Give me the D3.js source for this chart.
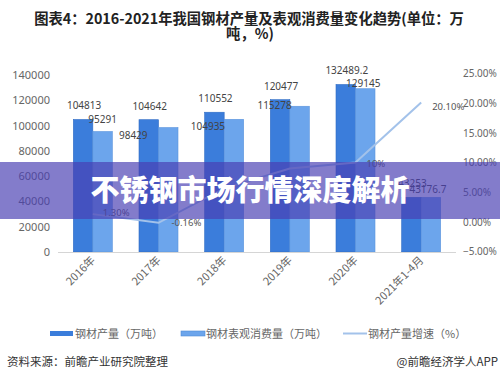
<!DOCTYPE html>
<html><head><meta charset="utf-8">
<script src="https://cdn.jsdelivr.net/npm/d3@7"></script>
<style>
html,body{margin:0;padding:0;background:#fff;}
svg{display:block;}
text{font-family:"Noto Sans","Noto Sans CJK SC",sans-serif;}
</style></head>
<body>
<svg id="c" width="500" height="381"></svg>
<script>
const categories = ["2016年","2017年","2018年","2019年","2020年","2021年1-4月"];
const production = [104813,104642,110552,120477,132489.2,43253];
const consumption = [95291,98429,104935,115278,129145,43176.7];
const growth = [1.30,-0.16,5.65,8.98,10.0,20.10];
const productionLabels = ["104813","104642","110552","120477","132489.2","43253"];
const consumptionLabels = ["95291","98429","104935","115278","129145","43176.7"];
const growthLabels = ["1.30%","-0.16%","","","10%","20.10%"];
const leftTicks = [0,20000,40000,60000,80000,100000,120000,140000];
const rightTicks = [-5,0,5,10,15,20,25];
const seriesNames = ["钢材产量（万吨）","钢材表观消费量（万吨）","钢材产量增速（%）"];

// layout offsets for labels (styling, not data)
const consLabelOffset = [[0,-9],[-35,11],[-26,11],[-25,3],[-2,-2],[-3,-4]];
const growthLabelOffset = [[10,2],[13,3],[0,0],[0,0],[11,4],[11,7]];

const C1 = "#3b7ddb", C2 = "#6ca5ec", CL = "#a3c2ea";
const svg = d3.select("#c");

const x = d3.scaleBand().domain(categories).range([60,454]).padding(0);
const yL = d3.scaleLinear().domain([0,140000]).range([252,75]);
const yR = d3.scaleLinear().domain([-5,25]).range([251.5,73.5]);
const bw = 19.5;

// title
svg.append("text").attr("x",249).attr("y",24).attr("text-anchor","middle")
  .attr("font-size","14.3px").attr("font-weight","bold").attr("fill","#222")
  .style("font-family","'Noto Sans CJK SC',sans-serif")
  .text("图表4：2016-2021年我国钢材产量及表观消费量变化趋势(单位：万");
svg.append("text").attr("x",250).attr("y",39).attr("text-anchor","middle")
  .attr("font-size","14.3px").attr("font-weight","bold").attr("fill","#222")
  .style("font-family","'Noto Sans CJK SC',sans-serif")
  .text("吨，%)");

// left axis
const gL = svg.append("g").attr("transform","translate(58,0)")
  .call(d3.axisLeft(yL).tickValues(leftTicks).tickSize(0).tickPadding(8).tickFormat(d3.format("d")));
gL.select(".domain").remove();
gL.selectAll("text").attr("font-size","11px").attr("fill","#666").style("font-family","'Noto Sans',sans-serif");

// right axis
const gR = svg.append("g").attr("transform","translate(458,0)")
  .call(d3.axisRight(yR).tickValues(rightTicks).tickSize(0).tickPadding(5).tickFormat(d=>d3.format(".2f")(d)+"%"));
gR.select(".domain").remove();
gR.selectAll("text").attr("font-size","10px").attr("fill","#666").style("font-family","'Noto Sans',sans-serif");

// bars
const cx = d => x(d) + x.bandwidth()/2;
svg.append("g").selectAll("rect").data(categories).join("rect")
  .attr("x",d=>cx(d)-bw).attr("width",bw)
  .attr("y",(d,i)=>yL(production[i])).attr("height",(d,i)=>yL(0)-yL(production[i]))
  .attr("fill",C1).attr("stroke","#2f6cc4").attr("stroke-width",0.6);
svg.append("g").selectAll("rect").data(categories).join("rect")
  .attr("x",d=>cx(d)).attr("width",bw)
  .attr("y",(d,i)=>yL(consumption[i])).attr("height",(d,i)=>yL(0)-yL(consumption[i]))
  .attr("fill",C2).attr("stroke","#5a93dc").attr("stroke-width",0.6);

// baseline
svg.append("line").attr("x1",58).attr("x2",456).attr("y1",yL(0)+0.5).attr("y2",yL(0)+0.5)
  .attr("stroke","#d5d5d5").attr("stroke-width",1);

// x labels
svg.append("g").selectAll("text").data(categories).join("text")
  .attr("transform",d=>`translate(${cx(d)+3},261) rotate(-45)`)
  .attr("text-anchor","end").attr("font-size","11px").attr("fill","#666")
  .style("font-family","'Noto Sans CJK SC',sans-serif")
  .text(d=>d);

// line
const line = d3.line().x((d,i)=>cx(categories[i])).y(d=>yR(d));
svg.append("path").datum(growth).attr("d",line).attr("fill","none")
  .attr("stroke",CL).attr("stroke-width",2);

// bar labels
svg.append("g").selectAll("text").data(categories).join("text")
  .attr("x",d=>cx(d)-bw/2+1).attr("y",(d,i)=>yL(production[i])-10)
  .attr("text-anchor","middle").attr("font-size","10px").attr("fill","#444")
  .text((d,i)=>productionLabels[i]);
svg.append("g").selectAll("text").data(categories).join("text")
  .attr("x",(d,i)=>cx(d)+bw/2+consLabelOffset[i][0]).attr("y",(d,i)=>yL(consumption[i])+consLabelOffset[i][1])
  .attr("text-anchor","middle").attr("font-size","10px").attr("fill","#444")
  .text((d,i)=>consumptionLabels[i]);
svg.append("g").selectAll("text").data(categories).join("text")
  .attr("x",(d,i)=>cx(d)+growthLabelOffset[i][0]).attr("y",(d,i)=>yR(growth[i])+growthLabelOffset[i][1])
  .attr("text-anchor","start").attr("font-size","9.5px").attr("fill","#555")
  .text((d,i)=>growthLabels[i]);

// legend
const lg = svg.append("g").attr("font-size","11px").attr("fill","#666");
lg.append("rect").attr("x",50).attr("y",331).attr("width",23).attr("height",5).attr("fill",C1);
lg.append("text").attr("x",75).attr("y",337.5).text(seriesNames[0]).style("font-family","'Noto Sans CJK SC',sans-serif");
lg.append("rect").attr("x",181).attr("y",331).attr("width",24).attr("height",5).attr("fill",C2).attr("stroke","#4f8ad6").attr("stroke-width",0.6);
lg.append("text").attr("x",206).attr("y",337.5).text(seriesNames[1]).style("font-family","'Noto Sans CJK SC',sans-serif");
lg.append("line").attr("x1",343).attr("x2",367).attr("y1",333.5).attr("y2",333.5).attr("stroke",CL).attr("stroke-width",2);
lg.append("text").attr("x",368).attr("y",337.5).text(seriesNames[2]).style("font-family","'Noto Sans CJK SC',sans-serif");

// footer
svg.append("text").attr("x",7).attr("y",366).attr("font-size","11.5px").attr("fill","#333")
  .style("font-family","'Noto Sans CJK SC',sans-serif").text("资料来源：前瞻产业研究院整理");
svg.append("text").attr("x",498).attr("y",366).attr("text-anchor","end").attr("font-size","11.5px").attr("fill","#333")
  .style("font-family","'Noto Sans CJK SC',sans-serif").text("@前瞻经济学人APP");

// overlay banner
svg.append("rect").attr("x",0).attr("y",162).attr("width",500).attr("height",57)
  .attr("fill","rgb(72,62,178)").attr("fill-opacity",0.68);
svg.append("text").attr("x",250).attr("y",201).attr("text-anchor","middle")
  .attr("font-size","29px").attr("font-weight","900").attr("fill","#fff")
  .style("font-family","'Noto Sans CJK SC',sans-serif")
  .text("不锈钢市场行情深度解析");
</script>
</body></html>
